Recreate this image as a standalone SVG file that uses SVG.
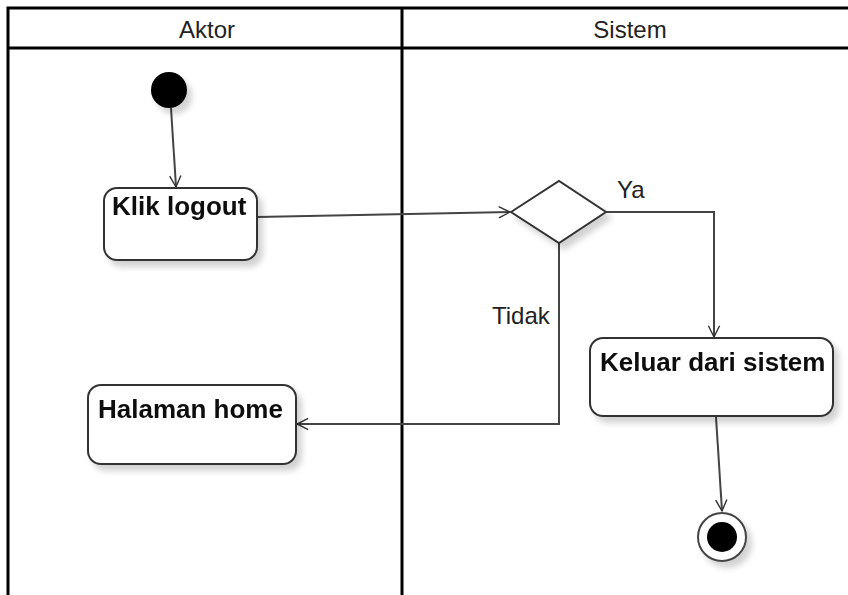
<svg xmlns="http://www.w3.org/2000/svg" width="848" height="595" viewBox="0 0 848 595">
  <style>
    .lane { fill: none; stroke: #000; stroke-width: 3; }
    .hdr { font-family: "Liberation Sans", Arial, sans-serif; font-size: 24px; fill: #222; text-anchor: middle; }
    .act { fill: #fff; stroke: #333; stroke-width: 2; }
    .lbl { font-family: "Liberation Sans", Arial, sans-serif; font-size: 26px; font-weight: bold; fill: #111; }
    .guard { font-family: "Liberation Sans", Arial, sans-serif; font-size: 24px; fill: #222; }
    .edge { fill: none; stroke: #444; stroke-width: 2; }
  </style>
  <defs>
    <filter id="shadow" x="-20%" y="-20%" width="150%" height="160%">
      <feGaussianBlur in="SourceAlpha" stdDeviation="3"/>
      <feOffset dx="5" dy="6" result="b"/>
      <feComponentTransfer><feFuncA type="linear" slope="0.18"/></feComponentTransfer>
      <feMerge><feMergeNode/><feMergeNode in="SourceGraphic"/></feMerge>
    </filter>
    <marker id="open" viewBox="0 0 20 20" refX="18" refY="10" markerWidth="14" markerHeight="14" markerUnits="userSpaceOnUse" orient="auto">
      <path d="M2 2 L18 10 L2 18" fill="none" stroke="#333" stroke-width="2"/>
    </marker>
  </defs>
  <rect width="848" height="595" fill="#fff"/>

  <!-- swimlanes -->
  <g id="lanes">
    <path class="lane" d="M8 600 V8 H852 M8 48 H852 M402 8 V600"/>
    <text class="hdr" x="207" y="38">Aktor</text>
    <text class="hdr" x="630" y="38">Sistem</text>
  </g>

  <!-- connectors -->
  <g id="connectors">
    <path class="edge" d="M171 108 L176 187" marker-end="url(#open)"/>
    <path class="edge" d="M257 217 L510 212" marker-end="url(#open)"/>
    <path class="edge" d="M606 212 H714 V337" marker-end="url(#open)"/>
    <path class="edge" d="M559 243 V424 H297" marker-end="url(#open)"/>
    <path class="edge" d="M716 417 L722 511" marker-end="url(#open)"/>
    <text class="guard" x="617" y="198">Ya</text>
    <text class="guard" x="492" y="324">Tidak</text>
  </g>

  <g id="start" filter="url(#shadow)">
    <circle cx="169" cy="90" r="18" fill="#000"/>
  </g>

  <g id="klik-logout" filter="url(#shadow)">
    <rect class="act" x="104" y="188" width="153" height="72" rx="13"/>
    <text class="lbl" x="112" y="215">Klik logout</text>
  </g>

  <g id="decision" filter="url(#shadow)">
    <polygon points="511,212 559,181 606,212 559,243" fill="#fff" stroke="#333" stroke-width="2"/>
  </g>

  <g id="keluar" filter="url(#shadow)">
    <rect class="act" x="590" y="338" width="243" height="78" rx="13"/>
    <text class="lbl" x="600" y="371">Keluar dari sistem</text>
  </g>

  <g id="halaman-home" filter="url(#shadow)">
    <rect class="act" x="88" y="385" width="208" height="79" rx="13"/>
    <text class="lbl" x="98" y="418">Halaman home</text>
  </g>

  <g id="end" filter="url(#shadow)">
    <circle cx="722" cy="537" r="24" fill="#fff" stroke="#444" stroke-width="2"/>
    <circle cx="722" cy="537" r="15" fill="#000"/>
  </g>
</svg>
